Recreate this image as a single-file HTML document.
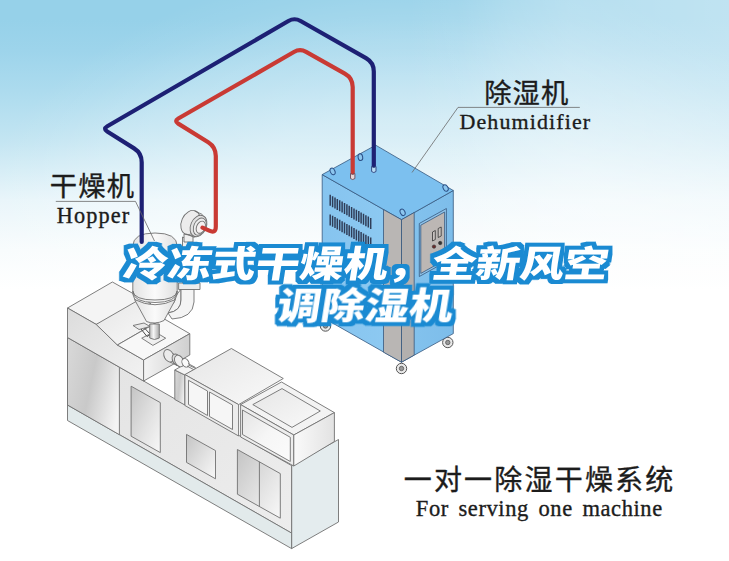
<!DOCTYPE html>
<html lang="zh-CN">
<head>
<meta charset="utf-8">
<title>冷冻式干燥机，全新风空调除湿机</title>
<style>
html,body{margin:0;padding:0;background:#fff;}
body{width:729px;height:561px;overflow:hidden;position:relative;font-family:"Liberation Sans","Noto Sans CJK SC",sans-serif;}
#stage{position:absolute;left:0;top:0;width:729px;height:561px;display:block;}
.cn{font-family:"Liberation Sans","Noto Sans CJK SC",sans-serif;fill:#1c1c1c;stroke:#1c1c1c;stroke-width:0.35px;}
.en{font-family:"Liberation Serif","Noto Serif CJK SC",serif;fill:#1c1c1c;stroke:#1c1c1c;stroke-width:0.35px;}
.title{font-family:"Liberation Sans","Noto Sans CJK SC",sans-serif;font-weight:900;fill:#fff;}
.ln{fill:none;stroke:#6a6a6a;stroke-width:0.8;}
.o{stroke:#707070;stroke-width:0.9;stroke-linejoin:round;}
.d{stroke:#36587f;stroke-width:0.8;stroke-linejoin:round;}
</style>
</head>
<body>
<svg id="stage" width="729" height="561" viewBox="0 0 729 561">
<defs>
<linearGradient id="bgv" gradientUnits="userSpaceOnUse" x1="0" y1="0" x2="0" y2="561">
<stop offset="0.0000" stop-color="#96d1e9"/>
<stop offset="0.0357" stop-color="#96d1e9"/>
<stop offset="0.0891" stop-color="#9dd4eb"/>
<stop offset="0.1604" stop-color="#acdbee"/>
<stop offset="0.2496" stop-color="#c3e5f2"/>
<stop offset="0.3030" stop-color="#d5edf6"/>
<stop offset="0.3565" stop-color="#e8f5fa"/>
<stop offset="0.4456" stop-color="#f8fcfd"/>
<stop offset="0.5169" stop-color="#ffffff"/>
<stop offset="1.0000" stop-color="#ffffff"/>
</linearGradient>
<radialGradient id="bgh" gradientUnits="userSpaceOnUse" cx="0" cy="0" r="1" gradientTransform="translate(410,265) scale(450,300)">
<stop offset="0" stop-color="#fff" stop-opacity="0.42"/>
<stop offset="0.5" stop-color="#fff" stop-opacity="0.37"/>
<stop offset="0.75" stop-color="#fff" stop-opacity="0.2"/>
<stop offset="0.9" stop-color="#fff" stop-opacity="0.06"/>
<stop offset="1" stop-color="#fff" stop-opacity="0"/>
</radialGradient>
<linearGradient id="bgx" gradientUnits="userSpaceOnUse" x1="0" y1="0" x2="729" y2="0">
<stop offset="0" stop-color="#fff" stop-opacity="0"/>
<stop offset="0.56" stop-color="#fff" stop-opacity="0"/>
<stop offset="0.63" stop-color="#fff" stop-opacity="0.06"/>
<stop offset="0.7" stop-color="#fff" stop-opacity="0.2"/>
<stop offset="0.78" stop-color="#fff" stop-opacity="0.31"/>
<stop offset="1" stop-color="#fff" stop-opacity="0.4"/>
</linearGradient>
<linearGradient id="gp1" gradientUnits="objectBoundingBox" x1="0" y1="0.3" x2="1" y2="0.7">
<stop offset="0" stop-color="#d6d6d6"/>
<stop offset="0.45" stop-color="#c9c9c9"/>
<stop offset="1" stop-color="#f4f4f4"/>
</linearGradient>
<linearGradient id="gp2" x1="0" y1="0" x2="1" y2="1">
<stop offset="0" stop-color="#c4c4c4"/>
<stop offset="0.6" stop-color="#e4e4e4"/>
<stop offset="1" stop-color="#f8f8f8"/>
</linearGradient>
<linearGradient id="gfront" x1="0" y1="0" x2="1" y2="1">
<stop offset="0" stop-color="#e2e2e2"/>
<stop offset="1" stop-color="#ededed"/>
</linearGradient>
<linearGradient id="gface" x1="0" y1="0" x2="1" y2="1">
<stop offset="0" stop-color="#dcdcdc"/>
<stop offset="1" stop-color="#f2f2f2"/>
</linearGradient>
<linearGradient id="gpr" x1="0" y1="0" x2="1" y2="0">
<stop offset="0" stop-color="#f4f4f4"/>
<stop offset="1" stop-color="#cfcfcf"/>
</linearGradient>
<linearGradient id="gtop" x1="0" y1="0" x2="1" y2="1">
<stop offset="0" stop-color="#e6e6e6"/>
<stop offset="1" stop-color="#f9f9f9"/>
</linearGradient>
<linearGradient id="gsb" x1="0" y1="0" x2="1" y2="1">
<stop offset="0" stop-color="#e4e4e4"/>
<stop offset="0.5" stop-color="#f6f6f6"/>
<stop offset="1" stop-color="#fbfbfb"/>
</linearGradient>
<linearGradient id="gsr" x1="0" y1="0" x2="1" y2="0">
<stop offset="0" stop-color="#fafafa"/>
<stop offset="1" stop-color="#e2e2e2"/>
</linearGradient>
<linearGradient id="ghop" x1="0" y1="0" x2="1" y2="0">
<stop offset="0" stop-color="#e3e3e3"/>
<stop offset="0.5" stop-color="#fafafa"/>
<stop offset="1" stop-color="#e0e0e0"/>
</linearGradient>
<linearGradient id="gneck" x1="0" y1="0" x2="1" y2="0">
<stop offset="0" stop-color="#bdbdbd"/>
<stop offset="0.4" stop-color="#f6f6f6"/>
<stop offset="1" stop-color="#a8a8a8"/>
</linearGradient>
<linearGradient id="gdl" x1="0" y1="0" x2="1" y2="0">
<stop offset="0" stop-color="#86c4ef"/>
<stop offset="1" stop-color="#8ecaf2"/>
</linearGradient>
<linearGradient id="gdr" x1="0" y1="0" x2="1" y2="0">
<stop offset="0" stop-color="#84c3ee"/>
<stop offset="1" stop-color="#7dbdea"/>
</linearGradient>
<filter id="ol" filterUnits="userSpaceOnUse" x="100" y="230" width="530" height="110" color-interpolation-filters="sRGB">
<feMorphology in="SourceAlpha" operator="dilate" radius="4" result="d1"/>
<feGaussianBlur in="d1" stdDeviation="0.4" result="d1b"/>
<feFlood flood-color="#1a8ad2"/><feComposite in2="d1b" operator="in" result="blue"/>
<feMerge><feMergeNode in="blue"/><feMergeNode in="SourceGraphic"/></feMerge>
</filter>
</defs>
<rect x="0" y="0" width="729" height="561" fill="url(#bgv)"/>
<rect x="0" y="0" width="729" height="320" fill="url(#bgh)"/>
<rect x="0" y="0" width="729" height="320" fill="url(#bgx)"/>

<g id="machine">
<path d="M291.6 465.6 L338.5 439.5 L338.5 522 L291.6 548.6 Z" fill="#e4ecee" class="o"/>
<path d="M67.5 337.5 L291.6 465.6 L291.6 533.1 L67.5 405 Z" fill="url(#gfront)" class="o"/>
<path d="M67.5 405 L291.6 533.1 L291.6 548.6 L67.5 420.5 Z" fill="#e2eaeb" class="o"/>
<path d="M67.5 337.5 L119.4 367.2 L119.4 434.7 L67.5 405 Z" fill="url(#gp1)" class="o"/>
<path d="M131.1 386.2 L160.3 402.6 L160.3 452.6 L131.1 436.2 Z" fill="url(#gp2)" class="o"/>
<path d="M186.5 434.4 L215.5 450.6 L215.5 478.8 L186.5 462.4 Z" fill="url(#gp2)" class="o"/>
<path d="M237.4 449.5 L280.3 473.6 L280.3 518.2 L237.4 494.2 Z" fill="url(#gp2)" class="o"/>
<path d="M259.4 461.8 L259.4 506.4" fill="none" class="o"/>
<path d="M174.8 370 L184.9 375 L184.9 405 L174.8 399.5 Z" fill="url(#gp1)" class="o"/>
<path d="M174.8 370 L185.7 363.7 L196 368.5 L184.9 375 Z" fill="#f4f4f4" class="o"/>
<path d="M184.9 374.6 L231.4 348.5 L283.3 378.5 L238.6 404.6 Z" fill="url(#gtop)" class="o"/>
<path d="M184.9 374.6 L238.6 404.6 L238.6 436 L184.9 405.5 Z" fill="#ececec" class="o"/>
<path d="M188.5 380.3 L207.5 391 L207.5 415.5 L188.5 404.5 Z" fill="#f6f6f6" class="o"/>
<path d="M209.5 392 L232.5 405 L232.5 429.5 L209.5 416.5 Z" fill="#f6f6f6" class="o"/>
<path d="M240.6 404.6 L281.5 382 L334.4 412.6 L293.8 435 Z" fill="#f3f3f3" class="o"/>
<path d="M252.8 404.6 L282 388.6 L320.3 411 L292 427.4 Z" fill="url(#gtop)" class="o"/>
<path d="M240.6 404.6 L293.8 435 L293.8 466 L240.6 437 Z" fill="#ededed" class="o"/>
<path d="M242.5 410 L290.3 437.3 L290.3 461.5 L242.5 434.5 Z" fill="url(#gsb)" class="o"/>
<path d="M293.8 435 L334.4 412.6 L334.4 441.5 L293.8 466 Z" fill="url(#gsr)" class="o"/>
<path d="M67.5 308 L112.4 282 L151 303.5 L96.2 324.4 Z" fill="#f4f4f4" class="o"/>
<path d="M67.5 308 L96.2 324.4 L117.4 345 L143.6 360 L143.6 381 L67.5 337.5 Z" fill="url(#gface)" class="o"/>
<path d="M96.2 324.4 L136 301.5 L157 322 L117.4 345 Z" fill="url(#gtop)" class="o"/>
<path d="M117.4 345 L163.5 318.5 L189.8 333.7 L143.6 360 Z" fill="#f8f8f8" class="o"/>
<path d="M143.6 360 L189.8 333.7 L189.8 355 L143.6 381 Z" fill="url(#gpr)" class="o"/>
<path d="M166 350.200 L175.500 355 L178.500 366 L169.500 361.800 Z" fill="#e4e4e4" class="o"/>
<ellipse cx="168.800" cy="355.800" rx="4.600" ry="6.600" transform="rotate(-28 168.800 355.800)" fill="#ebebeb" class="o"/>
<ellipse cx="176.800" cy="359.800" rx="4.200" ry="6.200" transform="rotate(-28 176.800 359.800)" fill="#dedede" class="o"/>
<ellipse cx="179.200" cy="361" rx="4.200" ry="6.200" transform="rotate(-28 179.200 361)" fill="#f0f0f0" class="o"/>
<ellipse cx="185.500" cy="362.800" rx="3.300" ry="4.600" transform="rotate(-28 185.500 362.800)" fill="#fafafa" class="o"/>
<path d="M188 363.500 L195.500 367.500 M187 366 L193.500 369.500" fill="none" class="o"/>
</g>
<g id="hopper">
<path d="M181 289 V300 Q181 311 168 313 L170 306 Q175 304 175 297 Z" fill="#f2f2f2" class="o"/>
<path d="M181 289 H194 V302 Q193 318 172 319 L168 313 Q181 311 181 300 Z" fill="#f4f4f4" class="o"/>
<path d="M178.600 283 L200 283 L200 289.500 L178.600 289.500 Z" fill="#ededed" class="o"/>
<path d="M182.500 237 V283 H189 V240 Z" fill="#f1f1f1" class="o"/>
<path d="M184 234 V242 H193 V236 Z" fill="#f0f0f0" class="o"/>
<ellipse cx="190.500" cy="222.500" rx="9" ry="12.600" transform="rotate(24 190.500 222.500)" fill="#ececec" class="o"/>
<path d="M194.500 211 L202.500 214.500 M186.500 234 L194.500 237.500" fill="none" class="o"/>
<ellipse cx="198.500" cy="226" rx="7.800" ry="11.200" transform="rotate(24 198.500 226)" fill="#e2e2e2" class="o"/>
<ellipse cx="199.800" cy="226.600" rx="6" ry="9" transform="rotate(24 199.800 226.600)" fill="#ededed" class="o"/>
<ellipse cx="200.800" cy="227.200" rx="4.200" ry="6.400" transform="rotate(24 200.800 227.200)" fill="#f4f0f0" class="o"/>
<path d="M132.800 291 V246 Q133 233 155 233 Q177 233 177.200 246 V291 Q177 302.500 155 302.500 Q133 302.500 132.800 291 Z" fill="url(#ghop)" class="o"/>
<path d="M132.800 291 Q134 300 155 300 Q176 300 177.200 291" fill="none" class="o"/>
<path d="M132.800 294 Q134 305.500 155 305.500 Q176 305.500 177.200 294 L177.200 291 M132.800 291 V294" fill="none" class="o"/>
<path d="M134.500 299.500 Q155 310 175.500 299.500 L164 320.500 Q155 325 146.500 321.500 Z" fill="url(#ghop)" class="o"/>
<path d="M141.7 338.2 L154.5 331.6 L165.7 338.2 L152.9 345.4 Z" fill="#f0f0f0" class="o"/>
<path d="M149.700 324 V338 Q154.500 341 159.300 338 V324 Z" fill="url(#gneck)" class="o"/>
<path d="M133 325.5 L144 323 L150 326.5 L139 329.5 Z" fill="#e9e9e9" class="o"/>
<path d="M141 329 L147 336.500 L149.500 335 M144.500 328 L149.500 333.500" fill="none" stroke="#4a4a4a" stroke-width="1"/>
</g>
<g id="dehum">
<circle cx="325.5" cy="326" r="5.200" fill="#e8e8e8" stroke="#555" stroke-width="1"/>
<circle cx="325.5" cy="326" r="2.200" fill="#999" stroke="#555" stroke-width="0.8"/>
<circle cx="401.5" cy="368.5" r="5.200" fill="#e8e8e8" stroke="#555" stroke-width="1"/>
<circle cx="401.5" cy="368.5" r="2.200" fill="#999" stroke="#555" stroke-width="0.8"/>
<circle cx="447.8" cy="342.5" r="5.200" fill="#e8e8e8" stroke="#555" stroke-width="1"/>
<circle cx="447.8" cy="342.5" r="2.200" fill="#999" stroke="#555" stroke-width="0.8"/>
<path d="M322.2 174.6 L401.5 219.7 L401.5 362.2 L322.2 317.2 Z" fill="url(#gdl)" class="d"/>
<path d="M401.5 219.7 L453.3 190.5 L453.3 333.6 L401.5 362.2 Z" fill="url(#gdr)" class="d"/>
<path d="M322.2 174.6 L375.7 145.2 L453.3 190.5 L401.5 219.7 Z" fill="#7cc0ef" class="d"/>
<path d="M383.5 209.6 L401.5 219.7 L401.5 362.2 L383.5 352.2 Z" fill="#b9b6b4" class="d"/>
<path d="M401.5 219.7 L414.2 212.5 L414.2 355.1 L401.5 362.2 Z" fill="#b3b0ae" class="d"/>
<path d="M419.3 223.5 L446.4 208.5 L446.4 261.5 L419.3 276.5 Z" fill="#8fc4ea" class="d"/>
<path d="M420.8 225.2 L444.6 212 L444.6 260.2 L420.8 273.4 Z" fill="#bcb7b4" class="d"/>
<path d="M432.500 232 L435.300 230.500 V239.500 L432.500 241 Z M438.200 228.500 L441.200 227 V236 L438.200 237.500 Z" fill="#c8c2bf" stroke="#333" stroke-width="0.8"/>
<circle cx="434" cy="246.600" r="1.700" fill="#6b2a2a" stroke="#333" stroke-width="0.6"/><circle cx="440.200" cy="243" r="1.700" fill="#333" stroke="#333" stroke-width="0.6"/>
<path d="M330.2 194.8 v11 M332.6 196.2 v11 M335 197.5 v11 M337.3 198.9 v11 M339.7 200.2 v11 M342.1 201.6 v11 M344.5 203 v11 M346.9 204.3 v11 M349.2 205.7 v11 M351.6 207 v11 M354 208.4 v11 M356.4 209.8 v11 M358.8 211.1 v11 M361.1 212.5 v11 M363.5 213.8 v11 M365.9 215.2 v11 M368.3 216.6 v11 M370.7 217.9 v11 M330.2 214.4 v11 M332.6 215.8 v11 M335 217.1 v11 M337.3 218.5 v11 M339.7 219.8 v11 M342.1 221.2 v11 M344.5 222.6 v11 M346.9 223.9 v11 M349.2 225.3 v11 M351.6 226.6 v11 M354 228 v11 M356.4 229.4 v11 M358.8 230.7 v11 M361.1 232.1 v11 M363.5 233.4 v11 M365.9 234.8 v11 M368.3 236.2 v11 M370.7 237.5 v11" fill="none" stroke="#2f3d58" stroke-width="1.500"/>
<ellipse cx="332.6" cy="171.4" rx="2.300" ry="3.400" transform="rotate(-25 332.6 171.4)" fill="#8cc6ee" stroke="#2b4f86" stroke-width="1"/>
<ellipse cx="360.4" cy="157.2" rx="2.300" ry="3.400" transform="rotate(-10 360.4 157.2)" fill="#8cc6ee" stroke="#2b4f86" stroke-width="1"/>
<ellipse cx="402.6" cy="212.3" rx="2.300" ry="3.400" transform="rotate(-25 402.6 212.3)" fill="#8cc6ee" stroke="#2b4f86" stroke-width="1"/>
<ellipse cx="445.6" cy="188" rx="2.300" ry="3.400" transform="rotate(-30 445.6 188)" fill="#8cc6ee" stroke="#2b4f86" stroke-width="1"/>
</g>
<g id="pipes" fill="none" stroke-linecap="round" stroke-linejoin="round">
<path d="M141.7 242 L141.7 162.2 Q141.7 153.2 134.1 148.4 L107.2 131.5 Q103 128.8 107.3 126.3 L288.4 21 Q294.5 17.5 300.6 21 L366 58.1 Q373.8 62.5 373.8 71.5 L373.8 166.5" stroke="#1d2074" stroke-width="4.200"/>
<path d="M202.5 227.6 L209.2 230.7 Q215.8 233.8 215.8 226.5 L215.8 156 Q215.8 147 208.2 142.2 L178.2 123.6 Q174 121 178.3 118.5 L293.9 52 Q300 48.5 306.1 51.9 L344.8 73.6 Q352.7 78 352.7 87 L352.7 173" stroke="#c93a34" stroke-width="4.200"/>
</g>
<g id="conn" stroke-width="0.9">
<path d="M350.500 173.500 V178.500 Q352.700 180.600 354.900 178.500 V173.500 Q352.700 175.400 350.500 173.500 Z" fill="#e9d6d8" stroke="#6a4a58"/>
<path d="M371.600 166.500 V171.500 Q373.800 173.600 376 171.500 V166.500 Q373.800 168.400 371.600 166.500 Z" fill="#b9dcf4" stroke="#2b3f7a"/>
</g>
<g id="labels">
<text class="cn" x="49.700" y="195.900" font-size="27.300" letter-spacing="1.200">干燥机</text>
<path class="ln" d="M55.800 201.400 H135.500 L154.500 241"/>
<text class="en" x="56.700" y="222.700" font-size="22.300" letter-spacing="1.100">Hopper</text>
<text class="cn" x="484.200" y="103" font-size="27.300" letter-spacing="1.100">除湿机</text>
<path class="ln" d="M579.800 107.400 H458 L412 172.500"/>
<text class="en" x="459.500" y="129" font-size="22" letter-spacing="1.100">Dehumidifier</text>
<text class="cn" x="403.700" y="489.700" font-size="28" letter-spacing="2.200">一对一除湿干燥系统</text>
<text class="en" x="415.800" y="515.600" font-size="22.500" letter-spacing="0.580" word-spacing="3.500">For serving one machine</text>
</g>
<g id="title" filter="url(#ol)">
<g transform="translate(364.200,277.200) skewX(-9) scale(1.207,1)"><text class="title" x="0" y="0" font-size="36.500" letter-spacing="0" text-anchor="middle">冷冻式干燥机，全新风空</text></g>
<g transform="translate(363.300,319.800) skewX(-9) scale(1.207,1)"><text class="title" x="0" y="0" font-size="36.500" letter-spacing="0" text-anchor="middle">调除湿机</text></g>
</g>
</svg>
</body>
</html>
